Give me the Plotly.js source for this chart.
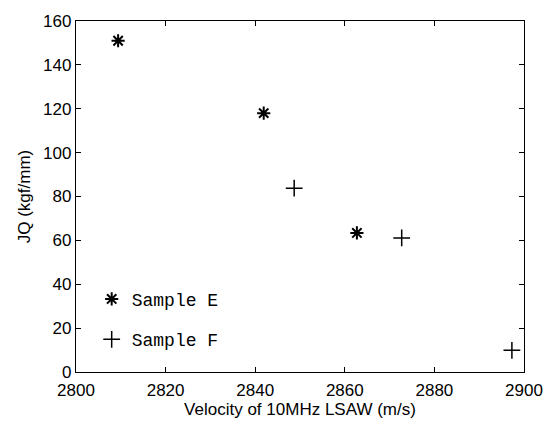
<!DOCTYPE html>
<html><head><meta charset="utf-8">
<script src="https://cdn.plot.ly/plotly-3.0.1.min.js"></script>
<style>html,body{margin:0;padding:0;background:#fff;}#chart{width:555px;height:425px;}</style>
</head><body><div id="chart"></div>
<script>
const sampleEVelocity = [2809.4, 2841.9, 2862.7];
const sampleEJQ = [151, 118, 63.4];
const sampleFVelocity = [2848.7, 2872.7, 2897.3];
const sampleFJQ = [83.8, 61.1, 9.9];
const seriesNames = ['Sample E', 'Sample F'];
const xTicks = [2800, 2820, 2840, 2860, 2880, 2900];
const yTicks = [0, 20, 40, 60, 80, 100, 120, 140, 160];

const traces = [
  {x: sampleEVelocity, y: sampleEJQ, name: seriesNames[0], legendgroup: 'e', mode: 'markers', type: 'scatter',
   marker: {symbol: 'asterisk-open', size: 11, color: '#000', line: {color: '#000', width: 2}}},
  {x: sampleFVelocity, y: sampleFJQ, name: seriesNames[1], legendgroup: 'f', mode: 'markers', type: 'scatter',
   marker: {symbol: 'cross-thin-open', size: 12, color: '#000', line: {color: '#000', width: 1.5}}}
];
const sans = 'Liberation Sans, Arial, sans-serif';
const axisCommon = {showgrid: false, zeroline: false, showline: true, linecolor: '#000', linewidth: 1.2,
  mirror: 'ticks', ticks: 'inside', ticklen: 5, tickcolor: '#000',
  tickfont: {family: sans, size: 17, color: '#000'}};
const layout = {
  width: 555, height: 425,
  margin: {l: 76, r: 31, t: 21, b: 53},
  paper_bgcolor: '#fff', plot_bgcolor: '#fff',
  showlegend: true,
  legend: {x: 0.035, y: 0.26, xanchor: 'left', yanchor: 'top', bgcolor: 'rgba(0,0,0,0)',
    font: {family: 'Liberation Mono, DejaVu Sans Mono, monospace', size: 18, color: '#000'},
    tracegroupgap: 14, itemwidth: 30},
  xaxis: Object.assign({}, axisCommon, {range: [2800, 2900], tickvals: xTicks, ticktext: xTicks.map(String),
    ticklabelstandoff: 2,
    title: {text: 'Velocity of 10MHz LSAW (m/s)', standoff: 2, font: {family: sans, size: 17, color: '#000'}}}),
  yaxis: Object.assign({}, axisCommon, {range: [0, 160], tickvals: yTicks, ticktext: yTicks.map(String),
    title: {text: 'JQ (kgf/mm)', standoff: 8, font: {family: sans, size: 17, color: '#000'}}})
};
Plotly.newPlot('chart', traces, layout, {displayModeBar: false, staticPlot: true});
</script></body></html>
